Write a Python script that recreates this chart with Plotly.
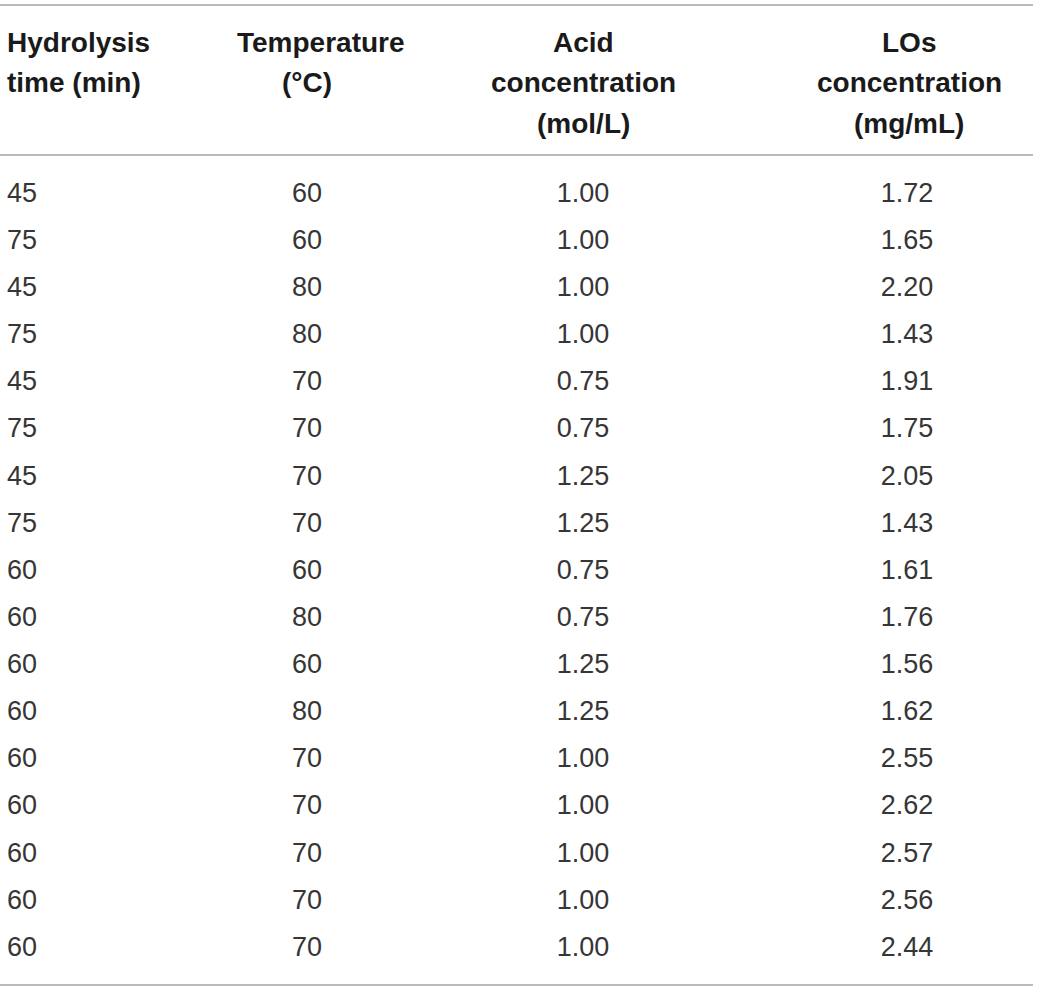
import plotly.graph_objects as go

# ---- data ----
headers = [
    ["Hydrolysis", "time (min)"],
    ["Temperature", "(°C)"],
    ["Acid", "concentration", "(mol/L)"],
    ["LOs", "concentration", "(mg/mL)"],
]
hydrolysis_time = [45, 75, 45, 75, 45, 75, 45, 75, 60, 60, 60, 60, 60, 60, 60, 60, 60]
temperature = [60, 60, 80, 80, 70, 70, 70, 70, 60, 80, 60, 80, 70, 70, 70, 70, 70]
acid_conc = [1.00, 1.00, 1.00, 1.00, 0.75, 0.75, 1.25, 1.25, 0.75, 0.75, 1.25, 1.25,
             1.00, 1.00, 1.00, 1.00, 1.00]
los_conc = [1.72, 1.65, 2.20, 1.43, 1.91, 1.75, 2.05, 1.43, 1.61, 1.76, 1.56, 1.62,
            2.55, 2.62, 2.57, 2.56, 2.44]

# ---- layout constants (pixels) ----
W, H = 1039, 990
FONT = "Liberation Sans, Arial, Helvetica, sans-serif"
DATA_COLOR = "#363636"
HEAD_COLOR = "#1a1a1a"
RULE_COLOR = "#a3a3a3"

n = len(hydrolysis_time)
rows = list(range(n))
first_px, last_px = 195.0, 949.0
step = (last_px - first_px) / (n - 1)
y_top = -first_px / step
y_bot = (H - first_px) / step

col_x = [7, 307, 583, 907]
columns = [
    [str(v) for v in hydrolysis_time],
    [str(v) for v in temperature],
    [f"{v:.2f}" for v in acid_conc],
    [f"{v:.2f}" for v in los_conc],
]

fig = go.Figure()
for ci, (x, texts) in enumerate(zip(col_x, columns)):
    fig.add_trace(go.Scatter(
        x=[x] * n, y=rows, mode="text", text=texts,
        textposition="middle right" if ci == 0 else "middle center",
        textfont=dict(family=FONT, size=27, color=DATA_COLOR),
        hoverinfo="skip", showlegend=False,
    ))

# header text
header_line_px = [43, 83, 123]
header_x = [[5, 5], [321, 307], [583, 583, 583], [909, 909, 909]]
annotations = []
for ci, lines in enumerate(headers):
    for li, line in enumerate(lines):
        annotations.append(dict(
            x=header_x[ci][li], xref="x",
            y=1 - header_line_px[li] / H, yref="paper",
            text=f"<b>{line}</b>", showarrow=False,
            xanchor="left" if ci == 0 else "center", yanchor="middle",
            font=dict(family=FONT, size=28, color=HEAD_COLOR),
        ))

# horizontal rules
shapes = []
for py in [5, 155, 985]:
    shapes.append(dict(type="line", xref="paper", yref="paper",
                       x0=0, x1=1033 / W, y0=1 - py / H, y1=1 - py / H,
                       line=dict(color=RULE_COLOR, width=1.5)))

fig.update_layout(
    width=W, height=H,
    margin=dict(l=0, r=0, t=0, b=0),
    paper_bgcolor="white", plot_bgcolor="white",
    xaxis=dict(range=[0, W], visible=False, fixedrange=True),
    yaxis=dict(range=[y_bot, y_top], visible=False, fixedrange=True),
    annotations=annotations, shapes=shapes,
)

fig.write_html(
    "out.html",
    config={"displayModeBar": False},
    post_script="document.body.style.margin='0';document.body.style.overflow='hidden';",
)
